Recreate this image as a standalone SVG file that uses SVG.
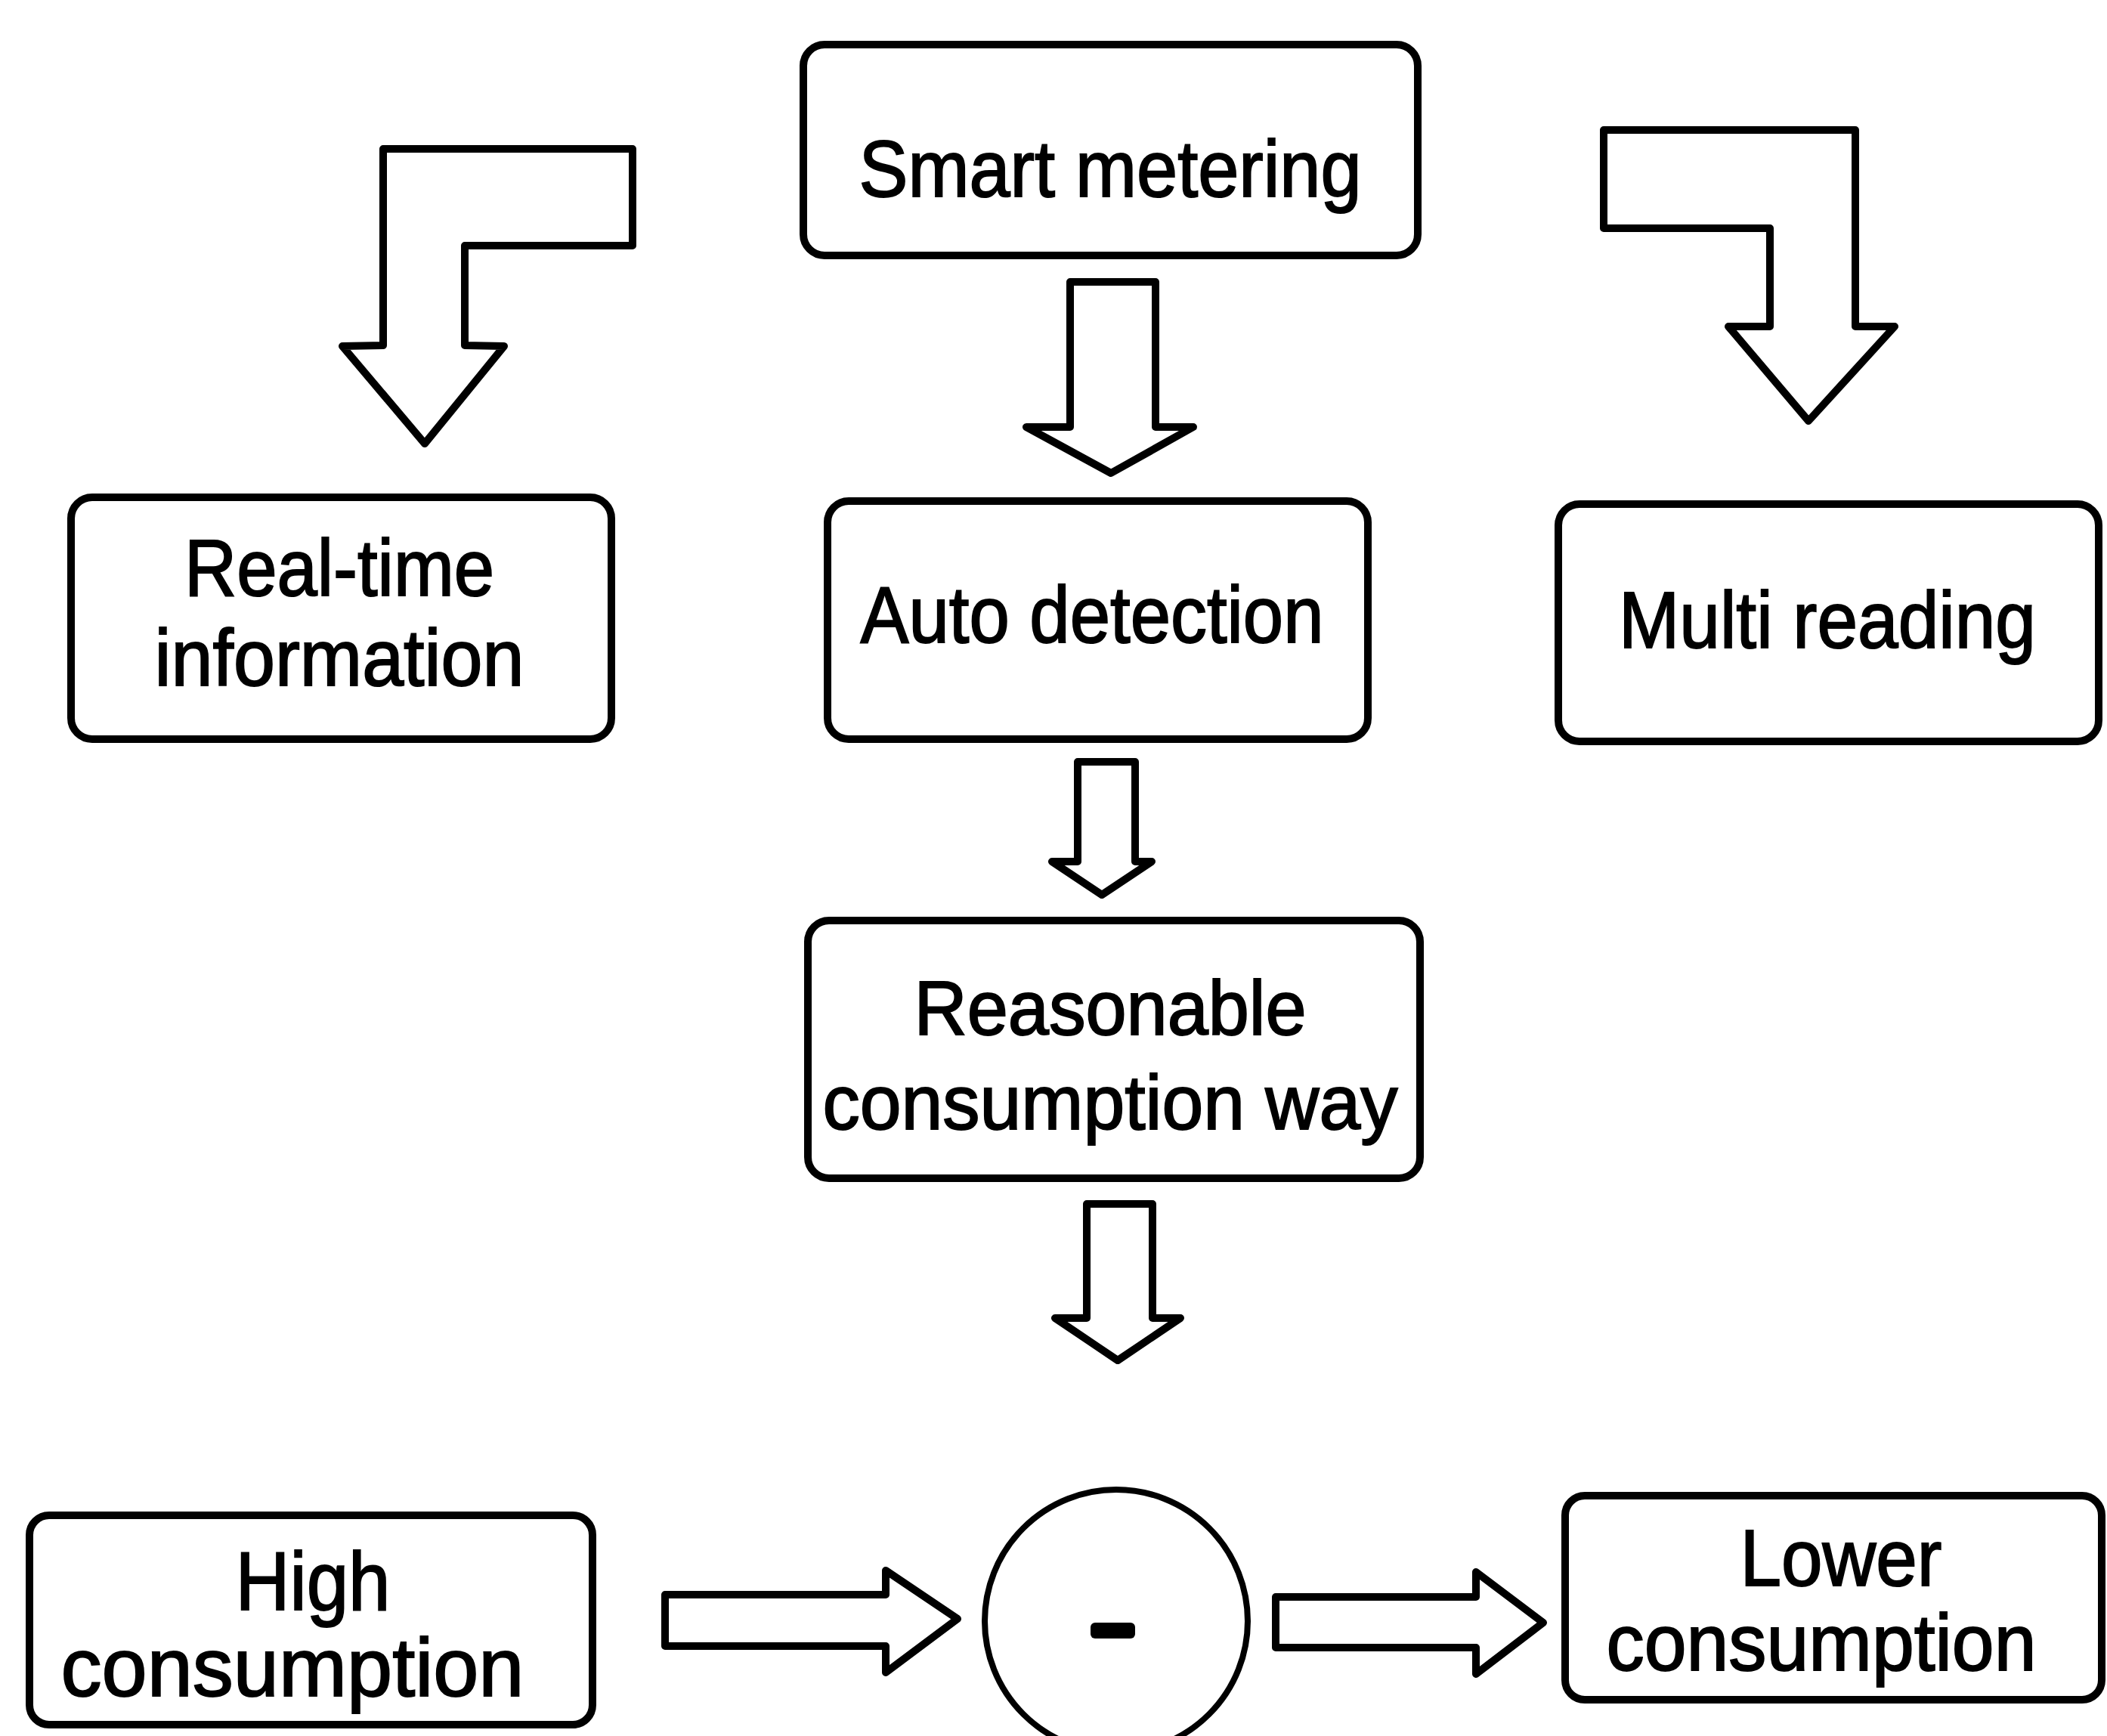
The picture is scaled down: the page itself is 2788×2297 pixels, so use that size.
<svg xmlns="http://www.w3.org/2000/svg" width="2788" height="2297" viewBox="0 0 2788 2297">
<style>
.box{fill:#fff;stroke:#000;stroke-width:10}
.arr{fill:#fff;stroke:#000;stroke-width:10;stroke-linejoin:round}
.t{font-family:"Liberation Sans",Arial,sans-serif;fill:#000;stroke:#000;stroke-width:2;text-anchor:middle}
</style>
<rect width="2788" height="2297" fill="#fff"/>
<g id="connectors">
<polygon class="arr" points="507,197 837,197 837,325 615,325 615,457 667,458 562,587 453,458 507,457"/>
<polygon class="arr" points="2122,172 2455,172 2455,432 2507,432 2393,557 2287,432 2342,432 2342,302 2122,302"/>
<polygon class="arr" points="1416,373 1529,373 1529,565 1579,565 1470,626 1358,565 1416,565"/>
<polygon class="arr" points="1426,1008 1502,1008 1502,1140 1524,1140 1458,1184 1392,1140 1426,1140"/>
<polygon class="arr" points="1438,1593 1525,1593 1525,1744 1562,1744 1479,1800 1396,1744 1438,1744"/>
<polygon class="arr" points="880,2110 1172,2110 1172,2078 1267,2142 1172,2213 1172,2178 880,2178"/>
<polygon class="arr" points="1688,2113 1953,2113 1953,2080 2042,2147 1953,2215 1953,2180 1688,2180"/>
</g>
<g id="smart-metering">
<rect class="box" x="1063" y="59" width="813" height="279" rx="28"/>
<text class="t" x="1469" y="260" font-size="106" textLength="665" lengthAdjust="spacingAndGlyphs">Smart metering</text>
</g>
<g id="real-time-information">
<rect class="box" x="94" y="658" width="715" height="320" rx="28"/>
<text class="t" x="449" y="788" font-size="106" textLength="410" lengthAdjust="spacingAndGlyphs">Real-time</text>
<text class="t" x="449" y="907" font-size="106" textLength="489" lengthAdjust="spacingAndGlyphs">information</text>
</g>
<g id="auto-detection">
<rect class="box" x="1095" y="663" width="715" height="315" rx="28"/>
<text class="t" x="1445" y="850" font-size="106" textLength="613" lengthAdjust="spacingAndGlyphs">Auto detection</text>
</g>
<g id="multi-reading">
<rect class="box" x="2062" y="667" width="715" height="314" rx="28"/>
<text class="t" x="2418" y="857" font-size="106" textLength="552" lengthAdjust="spacingAndGlyphs">Multi reading</text>
</g>
<g id="reasonable-consumption-way">
<rect class="box" x="1069" y="1218" width="810" height="341" rx="28"/>
<text class="t" x="1469" y="1369" font-size="102" textLength="519" lengthAdjust="spacingAndGlyphs">Reasonable</text>
<text class="t" x="1469" y="1494" font-size="102" textLength="761" lengthAdjust="spacingAndGlyphs">consumption way</text>
</g>
<g id="high-consumption">
<rect class="box" x="39" y="2005" width="745" height="277" rx="26"/>
<text class="t" x="414" y="2130" font-size="110" textLength="205" lengthAdjust="spacingAndGlyphs">High</text>
<text class="t" x="387" y="2244" font-size="110" textLength="613" lengthAdjust="spacingAndGlyphs">consumption</text>
</g>
<g id="minus">
<circle cx="1477" cy="2145" r="174" fill="#fff" stroke="#000" stroke-width="8"/>
<rect x="1443" y="2147" width="59" height="21" rx="6" fill="#000"/>
</g>
<g id="lower-consumption">
<rect class="box" x="2071" y="1979" width="710" height="270" rx="26"/>
<text class="t" x="2436" y="2098" font-size="106" textLength="267" lengthAdjust="spacingAndGlyphs">Lower</text>
<text class="t" x="2410" y="2210" font-size="106" textLength="569" lengthAdjust="spacingAndGlyphs">consumption</text>
</g>
</svg>
